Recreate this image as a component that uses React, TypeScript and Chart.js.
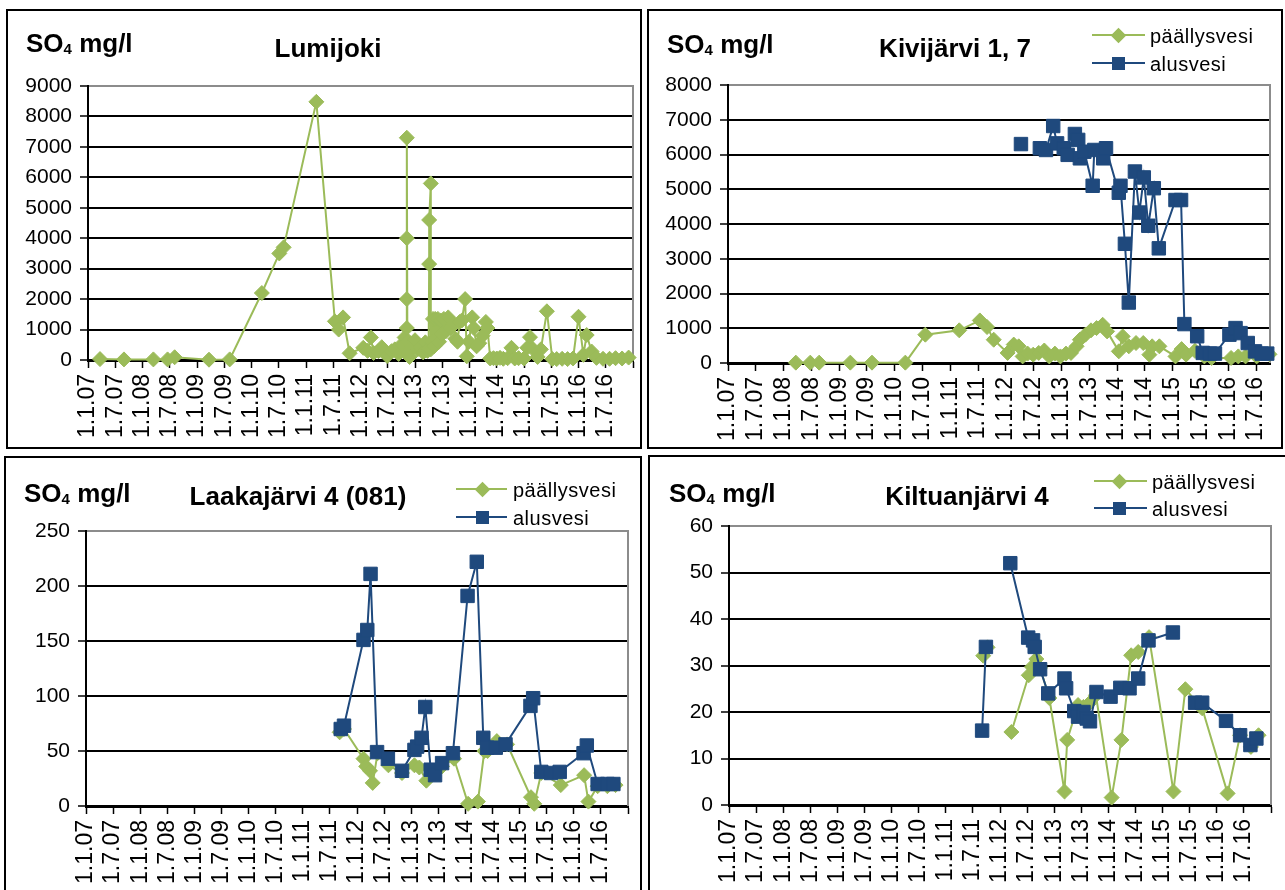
import React, { useEffect, useRef } from 'react';
import { Chart, registerables } from 'chart.js';

Chart.register(...registerables);

const GREEN = '#9BBB59';
const BLUE = '#1F497D';
const FONT = "'Liberation Sans', Arial, Helvetica, sans-serif";

const xTickLabels = [
  '1.1.07', '1.7.07', '1.1.08', '1.7.08', '1.1.09', '1.7.09', '1.1.10', '1.7.10', '1.1.11', '1.7.11',
  '1.1.12', '1.7.12', '1.1.13', '1.7.13', '1.1.14', '1.7.14', '1.1.15', '1.7.15', '1.1.16', '1.7.16',
];

const seriesNames = ['päällysvesi', 'alusvesi'];

// Lumijoki (päällysvesi only)
const lumiX = [
  2007.22, 2007.66, 2008.2, 2008.46, 2008.59, 2009.22, 2009.6, 2010.19, 2010.51, 2010.59,
  2011.19, 2011.53, 2011.6, 2011.68, 2011.8, 2012.05, 2012.13, 2012.19, 2012.24, 2012.33,
  2012.39, 2012.45, 2012.49, 2012.57, 2012.63, 2012.7, 2012.76, 2012.81, 2012.84, 2012.85,
  2012.85, 2012.85, 2012.85, 2012.86, 2012.88, 2012.9, 2012.95, 2013.0, 2013.05, 2013.1,
  2013.15, 2013.19, 2013.23, 2013.25, 2013.26, 2013.26, 2013.29, 2013.29, 2013.31, 2013.33,
  2013.35, 2013.37, 2013.39, 2013.42, 2013.44, 2013.47, 2013.5, 2013.53, 2013.57, 2013.61,
  2013.65, 2013.7, 2013.74, 2013.78, 2013.82, 2013.86, 2013.92, 2013.95, 2013.99, 2014.05,
  2014.08, 2014.13, 2014.18, 2014.24, 2014.3, 2014.33, 2014.38, 2014.44, 2014.5, 2014.56,
  2014.62, 2014.7, 2014.77, 2014.83, 2014.9, 2015.0, 2015.06, 2015.11, 2015.17, 2015.25,
  2015.31, 2015.42, 2015.52, 2015.6, 2015.7, 2015.8, 2015.9, 2016.0, 2016.09, 2016.15,
  2016.24, 2016.33, 2016.45, 2016.57, 2016.68, 2016.8, 2016.92,
];
const lumiY = [
  30, 20, 20, 20, 90, 10, 20, 2200, 3500, 3700,
  8480, 1270, 1000, 1400, 220, 400, 300, 740, 230, 290,
  420, 250, 130, 290, 350, 200, 520, 740, 300, 1050,
  2000, 4000, 7300, 600, 250, 100, 450, 650, 350, 420,
  250, 580, 300, 380, 3150, 4600, 5800, 350, 600, 1350,
  450, 1350, 700, 1350, 600, 1300, 850, 1350, 950, 1400,
  1050, 1200, 700, 600, 1250, 1300, 2000, 120, 600, 1400,
  1050, 450, 550, 800, 1250, 1050, 50, 60, 50, 70,
  40, 60, 400, 50, 60, 50, 400, 750, 350, 100,
  350, 1600, 30, 30, 40, 30, 50, 1420, 170, 820,
  280, 70, 40, 40, 60, 50, 80,
];

// Kivijärvi 1, 7
const kiviTopX = [
  2008.22, 2008.48, 2008.64, 2009.2, 2009.59, 2010.19, 2010.55, 2011.16, 2011.53, 2011.66,
  2011.78, 2012.03, 2012.14, 2012.23, 2012.3, 2012.39, 2012.49, 2012.59, 2012.69, 2012.78,
  2012.88, 2012.98, 2013.08, 2013.17, 2013.27, 2013.33, 2013.43, 2013.53, 2013.63, 2013.74,
  2013.82, 2014.03, 2014.1, 2014.21, 2014.34, 2014.47, 2014.58, 2014.63, 2014.76, 2015.05,
  2015.16, 2015.24, 2015.4, 2015.57, 2015.7, 2016.05, 2016.18, 2016.31, 2016.51, 2016.74,
];
const kiviTopY = [
  10, 10, 10, 10, 10, 10, 815, 940, 1225, 1035,
  670, 290, 530, 480, 190, 270, 240, 290, 360, 190,
  270, 190, 270, 290, 480, 670, 815, 940, 1005, 1100,
  910, 335, 765, 480, 575, 575, 240, 480, 480, 190,
  400, 240, 350, 190, 145, 145, 190, 190, 190, 250,
];
const kiviBotX = [
  2012.27, 2012.4, 2012.61, 2012.72, 2012.85, 2012.92, 2013.04, 2013.11, 2013.24, 2013.3,
  2013.33, 2013.41, 2013.56, 2013.59, 2013.75, 2013.8, 2014.03, 2014.06, 2014.14, 2014.21,
  2014.32, 2014.4, 2014.48, 2014.56, 2014.66, 2014.75, 2015.05, 2015.15, 2015.21, 2015.44,
  2015.54, 2015.67, 2015.76, 2016.02, 2016.13, 2016.22, 2016.35, 2016.48, 2016.6, 2016.7,
];
const kiviBotY = [
  6300, null, 6180, 6130, 6820, 6320, 6180, 5990, 6590, 6420,
  5890, 6080, 5100, 6130, 5890, 6180, 4900, 5100, 3430, 1740,
  5510, 4330, 5340, 3950, 5030, 3300, 4690, 4690, 1120, 770,
  290, 270, 270, 815, 1005, 860, 575, 335, 270, 270,
];

// Laakajärvi 4 (081)
const laakaTopX = [
  2011.68, 2011.76, 2012.12, 2012.17, 2012.24, 2012.29, 2012.38, 2012.58, 2012.83, 2013.06,
  2013.15, 2013.28, 2013.39, 2013.57, 2013.79, 2014.05, 2014.23, 2014.35, 2014.41, 2014.58,
  2014.77, 2015.21, 2015.27, 2015.4, 2015.76, 2016.19, 2016.27, 2016.44, 2016.62, 2016.77,
];
const laakaTopY = [
  67, 70, 43, 36, 32, 21, 48, 37, 30, 37,
  35, 23, 32, 36, 43, 2, 4, 50, 50, 59,
  56, 8, 2, 30, 19, 28, 4, 18, 18, 19,
];
const laakaBotX = [
  2011.7, 2011.76, 2012.12, 2012.19, 2012.25, 2012.37, 2012.57, 2012.83, 2013.06, 2013.11,
  2013.19, 2013.26, 2013.36, 2013.44, 2013.57, 2013.77, 2014.04, 2014.21, 2014.33, 2014.4,
  2014.56, 2014.74, 2015.2, 2015.25, 2015.4, 2015.58, 2015.74, 2016.18, 2016.24, 2016.44,
  2016.62, 2016.73,
];
const laakaBotY = [
  70, 73, 151, 160, 211, 49, 43, 32, 51, 54,
  62, 90, 33, 28, 39, 48, 191, 222, 62, 53,
  53, 56, 91, 98, 31, 30, 31, 48, 55, 20,
  20, 20,
];

// Kiltuanjärvi 4
const kiltTopX = [
  2011.69, 2011.77, 2011.95, 2012.21, 2012.53, 2012.59, 2012.67, 2012.74, 2012.91, 2013.19,
  2013.24, 2013.44, 2013.54, 2013.64, 2013.77, 2014.06, 2014.24, 2014.42, 2014.55, 2014.75,
  2015.2, 2015.42, 2015.73, 2016.2, 2016.43, 2016.63, 2016.77,
];
const kiltTopY = [
  32.1, 33.9, null, 15.7, 27.9, 29.7, 31.4, 29.5, 23, 2.9,
  14, 21.5, 21.1, 21.8, 23.6, 1.6, 14, 32.2, 32.9, 36.1,
  2.9, 24.9, 20.8, 2.5, 15, 12.5, 15,
];
const kiltBotX = [
  2011.67, 2011.74, 2011.9, 2012.19, 2012.52, 2012.61, 2012.64, 2012.74, 2012.89, 2013.19,
  2013.22, 2013.37, 2013.44, 2013.54, 2013.6, 2013.66, 2013.78, 2014.04, 2014.22, 2014.39,
  2014.55, 2014.74, 2015.19, 2015.4, 2015.6, 2015.73, 2016.17, 2016.43, 2016.62, 2016.73,
];
const kiltBotY = [
  16, 34, null, 52, 36, 35.4, 34, 29.2, 24, 27.2,
  25.1, 20.2, 19, 20, 18.6, 18, 24.3, 23.3, 25.2, 25.1,
  27.2, 35.4, 37.1, null, 22, 22, 18.1, 15, 12.9, 14.3,
];

type Series = { name: string; xs: number[]; ys: (number | null)[]; color: string; style: 'rectRot' | 'rect'; radius: number; order: number };
type Box = { l: number; t: number; w: number; h: number };
type Panel = {
  frame: Box;
  canvas: Box;
  plot: { l: number; t: number; r: number; b: number };
  title: string;
  titleCx: number;
  titleBase: number;
  unitX: number;
  unitBase: number;
  legend?: { x1: number; x2: number; mx: number; tx: number; y1: number; y2: number };
  yMax: number;
  yStep: number;
  xMax: number;
  series: Series[];
};

const top = (xs: number[], ys: (number | null)[]): Series => ({ name: seriesNames[0], xs, ys, color: GREEN, style: 'rectRot', radius: 7.5, order: 1 });
const bottom = (xs: number[], ys: (number | null)[]): Series => ({ name: seriesNames[1], xs, ys, color: BLUE, style: 'rect', radius: 9.5, order: 0 });

const panels: Panel[] = [
  {
    frame: { l: 6, t: 9, w: 636, h: 440 },
    canvas: { l: 6, t: 9, w: 636, h: 440 },
    plot: { l: 88, t: 86, r: 633, b: 360 },
    title: 'Lumijoki', titleCx: 328, titleBase: 57,
    unitX: 26, unitBase: 52,
    yMax: 9000, yStep: 1000, xMax: 2017,
    series: [top(lumiX, lumiY)],
  },
  {
    frame: { l: 647, t: 9, w: 636, h: 440 },
    canvas: { l: 647, t: 9, w: 636, h: 440 },
    plot: { l: 728, t: 85, r: 1270, b: 363 },
    title: 'Kivijärvi 1, 7', titleCx: 955, titleBase: 57,
    unitX: 667, unitBase: 53,
    legend: { x1: 1092, x2: 1145, mx: 1118, tx: 1150, y1: 35, y2: 63 },
    yMax: 8000, yStep: 1000, xMax: 2016.75,
    series: [top(kiviTopX, kiviTopY), bottom(kiviBotX, kiviBotY)],
  },
  {
    frame: { l: 4, t: 456, w: 638, h: 450 },
    canvas: { l: 4, t: 456, w: 638, h: 434 },
    plot: { l: 86, t: 531, r: 628, b: 806 },
    title: 'Laakajärvi 4 (081)', titleCx: 298, titleBase: 505,
    unitX: 24, unitBase: 502,
    legend: { x1: 456, x2: 507, mx: 482, tx: 513, y1: 489, y2: 517 },
    yMax: 250, yStep: 50, xMax: 2017,
    series: [top(laakaTopX, laakaTopY), bottom(laakaBotX, laakaBotY)],
  },
  {
    frame: { l: 648, t: 455, w: 642, h: 450 },
    canvas: { l: 648, t: 455, w: 637, h: 435 },
    plot: { l: 729, t: 526, r: 1271, b: 805 },
    title: 'Kiltuanjärvi 4', titleCx: 967, titleBase: 505,
    unitX: 669, unitBase: 502,
    legend: { x1: 1094, x2: 1147, mx: 1119, tx: 1152, y1: 481, y2: 508 },
    yMax: 60, yStep: 10, xMax: 2017,
    series: [top(kiltTopX, kiltTopY), bottom(kiltBotX, kiltBotY)],
  },
];

const rightFrame = {
  id: 'rightFrame',
  beforeDatasetsDraw(chart: any) {
    const { ctx, chartArea: a } = chart;
    ctx.save();
    ctx.strokeStyle = '#8c8c8c';
    ctx.lineWidth = 2;
    ctx.beginPath();
    ctx.moveTo(a.right, a.top - 1);
    ctx.lineTo(a.right, a.bottom);
    ctx.stroke();
    ctx.restore();
  },
};

function PanelChart({ p }: { p: Panel }) {
  const ref = useRef<HTMLCanvasElement>(null);
  useEffect(() => {
    const c = ref.current;
    if (!c) return;
    const { canvas: box, plot } = p;
    const yW = plot.l - box.l;
    const padTop = plot.t - box.t;
    const padRight = box.l + box.w - plot.r;
    const xH = box.t + box.h - plot.b;
    const chart = new Chart(c, {
      type: 'line',
      data: {
        datasets: p.series.map((s) => ({
          label: s.name,
          data: s.xs.map((x, i) => ({ x, y: s.ys[i] })),
          borderColor: s.color,
          backgroundColor: s.color,
          borderWidth: 2,
          pointStyle: s.style,
          pointRadius: s.radius,
          pointHoverRadius: s.radius,
          pointBorderWidth: 1,
          pointBorderColor: s.color,
          pointBackgroundColor: s.color,
          spanGaps: false,
          tension: 0,
          clip: false,
          order: s.order,
        })) as any,
      },
      options: {
        animation: false,
        responsive: false,
        devicePixelRatio: 1,
        events: [],
        layout: { padding: { left: 0, top: padTop, right: padRight, bottom: 0 } },
        plugins: { legend: { display: false }, title: { display: false }, tooltip: { enabled: false } },
        scales: {
          x: {
            type: 'linear',
            min: 2007,
            max: p.xMax,
            ticks: {
              stepSize: 0.5,
              autoSkip: false,
              maxRotation: 90,
              minRotation: 90,
              includeBounds: false,
              padding: 6,
              color: '#000',
              font: { family: FONT, size: 23 },
              callback: (_v: any, i: number) => xTickLabels[i] ?? '',
            },
            grid: { display: true, drawOnChartArea: false, drawTicks: true, tickLength: 8, tickColor: '#000', tickWidth: 1.5 },
            border: { display: true, color: '#000', width: 3 },
            afterFit: (s: any) => { s.height = xH; s.paddingLeft = 0; s.paddingRight = 0; },
          },
          y: {
            type: 'linear',
            min: 0,
            max: p.yMax,
            ticks: {
              stepSize: p.yStep,
              padding: 8,
              color: '#000',
              font: { family: FONT, size: 21 },
              callback: (v: any) => String(v),
            },
            grid: {
              color: (ctx: any) => (ctx.tick && ctx.tick.value === p.yMax ? '#8c8c8c' : '#000'),
              lineWidth: 2,
              tickLength: 8,
              tickColor: '#000',
              tickWidth: 1.5,
            },
            border: { display: true, color: '#000', width: 2 },
            afterFit: (s: any) => { s.width = yW; s.paddingTop = 0; s.paddingBottom = 0; },
          },
        },
      } as any,
      plugins: [rightFrame],
    });
    return () => chart.destroy();
  }, [p]);
  const b = p.canvas;
  return (
    <canvas
      ref={ref}
      width={b.w}
      height={b.h}
      style={{ position: 'absolute', left: b.l, top: b.t, width: b.w, height: b.h }}
    />
  );
}

function Texts({ p }: { p: Panel }) {
  const unitSize = 26;
  const titleSize = 26;
  const legSize = 20;
  const lg = p.legend;
  return (
    <>
      <div
        style={{
          position: 'absolute', left: p.unitX, top: p.unitBase - 0.846 * unitSize,
          font: `bold ${unitSize}px ${FONT}`, lineHeight: `${unitSize}px`, whiteSpace: 'nowrap', color: '#000',
        }}
      >
        SO<span style={{ fontSize: 15, verticalAlign: -2 }}>4</span> mg/l
      </div>
      <div
        style={{
          position: 'absolute', left: p.titleCx - 200, width: 400, textAlign: 'center',
          top: p.titleBase - 0.846 * titleSize,
          font: `bold ${titleSize}px ${FONT}`, lineHeight: `${titleSize}px`, whiteSpace: 'nowrap', color: '#000',
        }}
      >
        {p.title}
      </div>
      {lg &&
        [
          { y: lg.y1, color: GREEN, diamond: true, text: seriesNames[0] },
          { y: lg.y2, color: BLUE, diamond: false, text: seriesNames[1] },
        ].map((r, i) => (
          <React.Fragment key={i}>
            <div style={{ position: 'absolute', left: lg.x1, top: r.y - 1, width: lg.x2 - lg.x1, height: 2, background: r.color }} />
            {r.diamond ? (
              <div style={{ position: 'absolute', left: lg.mx - 5.5, top: r.y - 5.5, width: 11, height: 11, background: r.color, transform: 'rotate(45deg)' }} />
            ) : (
              <div style={{ position: 'absolute', left: lg.mx - 6.5, top: r.y - 6.5, width: 13, height: 13, background: r.color }} />
            )}
            <div
              style={{
                position: 'absolute', left: lg.tx, top: r.y + 7.5 - 0.846 * legSize,
                font: `${legSize}px ${FONT}`, lineHeight: `${legSize}px`, letterSpacing: '0.5px', whiteSpace: 'nowrap', color: '#000',
              }}
            >
              {r.text}
            </div>
          </React.Fragment>
        ))}
      <div
        style={{
          position: 'absolute', left: p.frame.l, top: p.frame.t, width: p.frame.w, height: p.frame.h,
          border: '2px solid #000', boxSizing: 'border-box', pointerEvents: 'none',
        }}
      />
    </>
  );
}

export default function App() {
  return (
    <div style={{ position: 'absolute', left: 0, top: 0, width: 1285, height: 890, overflow: 'hidden', background: '#fff' }}>
      {panels.map((p, i) => (
        <React.Fragment key={i}>
          <PanelChart p={p} />
          <Texts p={p} />
        </React.Fragment>
      ))}
    </div>
  );
}
